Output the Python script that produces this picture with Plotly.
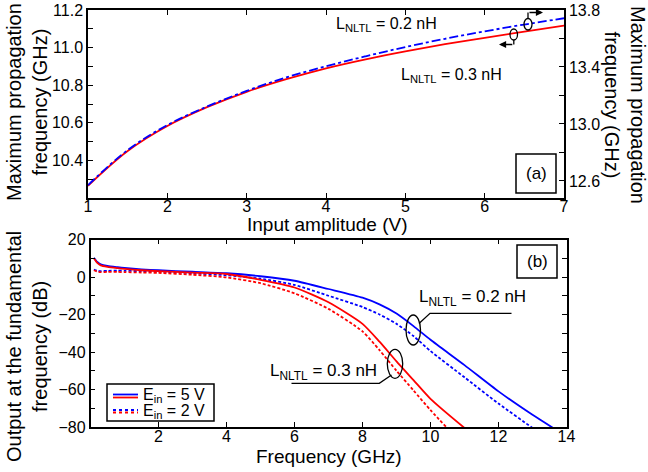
import plotly.graph_objects as go

# ---------------- data ----------------
# (a) maximum propagation frequency vs input amplitude
amplitude_v = [1, 1.5, 2, 2.5, 3, 3.5, 4, 4.5, 5, 5.5, 6, 6.5, 7]
fmax_03nH = [10.265, 10.45, 10.583, 10.683, 10.765, 10.832, 10.89, 10.938, 10.98,
             11.018, 11.052, 11.085, 11.117]          # left axis (GHz)
fmax_02nH = [12.57, 12.817, 12.992, 13.122, 13.232, 13.327, 13.405, 13.475, 13.54,
             13.598, 13.65, 13.698, 13.742]           # right axis (GHz)

# (b) output at fundamental frequency vs frequency
freq_ghz = [0.1, 0.2, 0.3, 0.5, 0.8, 1, 1.5, 2, 3, 4, 5, 6, 7, 8, 8.5, 9, 9.5, 10, 11, 12, 13, 14]
out_02nH_5V = [10.3, 8.0, 6.8, 5.9, 5.2, 4.8, 4.1, 3.6, 2.8, 2.0, 0.4, -2.0, -6.4, -11.0,
               -14.6, -19.5, -26.2, -33.5, -47.0, -61.0, -73.5, -85.0]
out_02nH_2V = [4.0, 3.3, 3.1, 3.3, 3.4, 3.3, 3.1, 2.9, 2.0, 0.9, -0.9, -4.2, -10.0, -16.0,
               -20.0, -25.0, -31.5, -39.5, -53.5, -67.5, -80.5, -93.0]
freq_ghz_03 = [0.1, 0.2, 0.3, 0.5, 0.8, 1, 1.5, 2, 3, 4, 5, 6, 7, 8, 8.5, 9, 9.5, 10, 11, 12]
out_03nH_5V = [10.0, 7.5, 6.2, 5.4, 4.7, 4.3, 3.6, 3.1, 2.3, 1.6, -1.5, -5.6, -13.5, -25.0,
               -34.5, -45.0, -55.0, -65.0, -80.5, -95.0]
out_03nH_2V = [3.6, 2.9, 2.6, 2.7, 2.7, 2.6, 2.4, 2.2, 1.2, -0.2, -3.3, -8.7, -17.0, -29.0,
               -39.0, -50.0, -60.5, -71.0, -90.0, -105.0]

xa_ticks = [1, 2, 3, 4, 5, 6, 7]
ya_left_ticks = [10.4, 10.6, 10.8, 11.0, 11.2]
ya_right_ticks = [12.6, 13.0, 13.4, 13.8]
xb_ticks = [2, 4, 6, 8, 10, 12, 14]
yb_ticks = [-80, -60, -40, -20, 0, 20]

# ---------------- helpers ----------------
W, H = 648, 472
def PX(x):
    return x / W
def PY(y):
    return 1 - y / H

FONT = "Liberation Sans, Arial, sans-serif"
BLUE = "rgb(0,0,255)"
RED = "rgb(255,0,0)"
TICKF = dict(family=FONT, size=16, color="black")

fig = go.Figure()

fig.add_trace(go.Scatter(x=amplitude_v, y=fmax_03nH, mode="lines", xaxis="x", yaxis="y",
                         line=dict(color=RED, width=1.8, shape="spline"), showlegend=False))
fig.add_trace(go.Scatter(x=amplitude_v, y=fmax_02nH, mode="lines", xaxis="x", yaxis="y2",
                         line=dict(color=BLUE, width=1.8, dash="dashdot", shape="spline"),
                         showlegend=False))

dotdash = "3px,2px"
fig.add_trace(go.Scatter(x=freq_ghz, y=out_02nH_5V, mode="lines", xaxis="x2", yaxis="y3",
                         line=dict(color=BLUE, width=1.8, shape="spline", smoothing=0.6),
                         showlegend=False))
fig.add_trace(go.Scatter(x=freq_ghz, y=out_02nH_2V, mode="lines", xaxis="x2", yaxis="y3",
                         line=dict(color=BLUE, width=1.8, dash=dotdash, shape="spline", smoothing=0.6),
                         showlegend=False))
fig.add_trace(go.Scatter(x=freq_ghz_03, y=out_03nH_5V, mode="lines", xaxis="x2", yaxis="y3",
                         line=dict(color=RED, width=1.8, shape="spline", smoothing=0.6),
                         showlegend=False))
fig.add_trace(go.Scatter(x=freq_ghz_03, y=out_03nH_2V, mode="lines", xaxis="x2", yaxis="y3",
                         line=dict(color=RED, width=1.8, dash=dotdash, shape="spline", smoothing=0.6),
                         showlegend=False))

axis_common = dict(showline=True, linecolor="black", linewidth=1.5, ticks="inside",
                   ticklen=5, tickwidth=1, tickcolor="black", showgrid=False, zeroline=False,
                   tickfont=TICKF, automargin=False)

fig.update_layout(
    width=W, height=H, margin=dict(l=0, r=0, t=0, b=0, autoexpand=False),
    paper_bgcolor="white", plot_bgcolor="white", showlegend=False,
    font=dict(family=FONT, color="black"),
    xaxis=dict(domain=[PX(88), PX(564)], range=[1, 7], tickvals=xa_ticks, anchor="y",
               mirror="ticks", ticklabelstandoff=-7, **axis_common),
    yaxis=dict(domain=[PY(198), PY(10)], range=[10.2, 11.2], tickvals=ya_left_ticks,
               tickformat=".1f", anchor="x",
               minor=dict(dtick=0.1, tick0=10.2, ticks="inside", ticklen=5, tickcolor="black"),
               **axis_common),
    yaxis2=dict(range=[12.48, 13.8], tickvals=ya_right_ticks, tickformat=".1f",
                overlaying="y", side="right", anchor="x",
                minor=dict(dtick=0.2, tick0=12.6, ticks="inside", ticklen=5, tickcolor="black"),
                **axis_common),
    xaxis2=dict(domain=[PX(90.5), PX(566.5)], range=[0, 14], tickvals=xb_ticks, anchor="y3",
                mirror="ticks", ticklabelstandoff=-6, **axis_common),
    yaxis3=dict(domain=[PY(427), PY(239.5)], range=[-80, 20], tickvals=yb_ticks, anchor="x2",
                mirror="ticks",
                minor=dict(dtick=10, tick0=-80, ticks="inside", ticklen=5, tickcolor="black"),
                **axis_common),
)

ann = []
shapes = []
TFY = dict(family=FONT, size=20, color="black")
TFX = dict(family=FONT, size=19, color="black")
AF = dict(family=FONT, size=16, color="black")
LF = dict(family=FONT, size=17, color="black")

def text(x, y, s, font=AF, xanchor="center", angle=0):
    ann.append(dict(x=PX(x), y=PY(y), xref="paper", yref="paper", text=s, showarrow=False,
                    font=font, xanchor=xanchor, yanchor="middle", textangle=angle))

# axis titles
text(27, 102, "Maximum propagation<br>frequency (GHz)", TFY, angle=-90)
text(625, 105, "Maximum propagation<br>frequency (GHz)", TFY, angle=90)
text(27, 347, "Output at the fundamental<br>frequency (dB)", TFY, angle=-90)
text(327, 224, "Input amplitude (V)", TFX)
text(329, 456, "Frequency (GHz)", TFX)

# panel labels
for (x0, y0, x1, y1, lab) in [(516, 154, 556, 193, "(a)"), (517, 245, 557, 278, "(b)")]:
    shapes.append(dict(type="rect", xref="paper", yref="paper", x0=PX(x0), x1=PX(x1),
                       y0=PY(y1), y1=PY(y0), line=dict(color="black", width=1.5),
                       fillcolor="white"))
    text((x0 + x1) / 2, (y0 + y1) / 2, lab, LF)

# top annotations
text(334, 25, "L<sub>NLTL</sub> = 0.2 nH", AF, xanchor="left")
text(399, 75, "L<sub>NLTL</sub> = 0.3 nH", AF, xanchor="left")

def ellipse(x0, y0, x1, y1, w=1.3):
    shapes.append(dict(type="circle", xref="paper", yref="paper", x0=PX(x0), x1=PX(x1),
                       y0=PY(y1), y1=PY(y0), line=dict(color="black", width=w)))

def path(pts, w=1.3):
    d = "M " + " L ".join(f"{PX(a)},{PY(b)}" for a, b in pts)
    shapes.append(dict(type="path", xref="paper", yref="paper", path=d,
                       line=dict(color="black", width=w)))

def arrow(xh, yh, xt, yt):
    ann.append(dict(x=PX(xh), y=PY(yh), xref="paper", yref="paper", text="", showarrow=True,
                    ax=xt - xh, ay=yt - yh, axref="pixel", ayref="pixel", arrowhead=2,
                    arrowsize=1.1, arrowwidth=1.3, arrowcolor="black"))

# small ellipses with axis-direction arrows (panel a)
ellipse(524, 18.5, 532, 30)
path([(528, 18.5), (528, 12.5)])
arrow(543, 12.5, 528, 12.5)
ellipse(510, 29, 517.5, 40)
path([(513.8, 40), (513.8, 44.5)])
arrow(499, 44.5, 513.8, 44.5)

# panel b annotations
text(417, 298, "L<sub>NLTL</sub> = 0.2 nH", LF, xanchor="left")
ellipse(406, 315, 420.5, 345)
path([(419, 323.5), (430, 313.3), (511.5, 313.3)])
text(379, 372, "L<sub>NLTL</sub> = 0.3 nH", LF, xanchor="right")
ellipse(387.3, 349.3, 402.7, 378.3)
path([(391.5, 375), (379.3, 383.3), (291.5, 383.3)])

# legend (panel b)
shapes.append(dict(type="rect", xref="paper", yref="paper", x0=PX(107), x1=PX(214),
                   y0=PY(421), y1=PY(384), line=dict(color="black", width=1.5),
                   fillcolor="white"))
for yy, col, dash in [(394.5, BLUE, "solid"), (397.5, RED, "solid"),
                      (410, BLUE, "dot"), (412.5, RED, "dot")]:
    shapes.append(dict(type="line", xref="paper", yref="paper", x0=PX(113), x1=PX(138),
                       y0=PY(yy), y1=PY(yy), line=dict(color=col, width=1.8, dash=dash)))
LGF = dict(family=FONT, size=16, color="black")
text(141, 395, "E<sub>in</sub> = 5 V", LGF, xanchor="left")
text(141, 411, "E<sub>in</sub> = 2 V", LGF, xanchor="left")

fig.update_layout(annotations=ann, shapes=shapes)
fig.write_html("out.html", config={"displayModeBar": False},
               post_script="document.body.style.margin='0px';")
